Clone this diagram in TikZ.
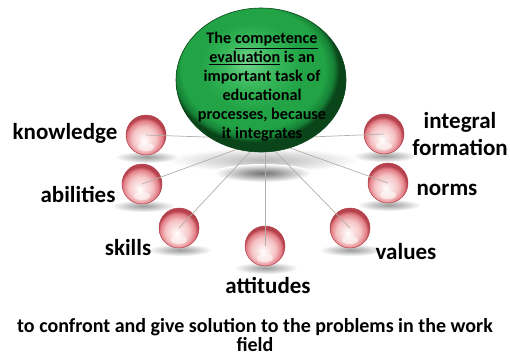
\documentclass[tikz,border=0pt]{standalone}
\usepackage{fontspec}
\setmainfont{Carlito}
\usetikzlibrary{shapes.geometric}
\definecolor{gHi}{HTML}{74D58E}
\definecolor{gMid}{HTML}{38B85A}
\definecolor{gMain}{HTML}{22A446}
\definecolor{gDark}{HTML}{168236}
\definecolor{gEdge}{HTML}{0A4519}
\definecolor{pHi}{HTML}{FCEAEA}
\definecolor{pMid}{HTML}{F5C3C5}
\definecolor{pEdge}{HTML}{E27E86}
\definecolor{pDark}{HTML}{B5424C}
\definecolor{spokecol}{HTML}{B4AEA6}
\pgfdeclareradialshading{greenball}{\pgfqpoint{-4bp}{7bp}}{color(0bp)=(gHi); color(8bp)=(gMid); color(15bp)=(gMain); color(21bp)=(gMain); color(23.5bp)=(gDark); color(25bp)=(gEdge); color(50bp)=(gEdge)}
\pgfdeclareradialshading{pinkball}{\pgfqpoint{-3bp}{-7bp}}{color(0bp)=(white); color(5bp)=(pHi); color(15bp)=(pMid); color(22bp)=(pEdge); color(25bp)=(pDark); color(50bp)=(pDark)}
\pgfdeclareradialshading{shadowfade}{\pgfpointorigin}{color(0bp)=(black!55); color(10bp)=(black!35); color(25bp)=(white); color(50bp)=(white)}
\begin{document}
\begin{tikzpicture}[x=1pt,y=-1pt,
  sphere/.style={circle, minimum size=40pt, inner sep=0pt, shading=pinkball, draw=pDark, line width=0.5pt},
  mainball/.style={ellipse, minimum width=170pt, minimum height=144pt, inner sep=0pt, shading=greenball, draw=gEdge, line width=0.6pt},
  maintext/.style={align=center, inner sep=0pt, font=\fontsize{16.2}{19}\selectfont\bfseries},
  lbl/.style={inner sep=0pt, font=\fontsize{23}{27}\selectfont\bfseries, align=center},
  bottomtext/.style={inner sep=0pt, font=\fontsize{20}{16.5}\selectfont\bfseries, align=center},
  spoke/.style={draw=spokecol, line width=0.7pt},
  shadow/.style={shading=shadowfade}]
\useasboundingbox (0,0) rectangle (510,360);
% shadows
\path[shadow, opacity=0.5] (263,160) ellipse [x radius=95, y radius=12];
\path[shadow] (263,173) ellipse [x radius=48, y radius=9];
\foreach \x/\y in {146/135, 142/184, 179/228, 265/246, 350/228, 388/183, 384/134}
  \path[shadow, opacity=0.7] (\x+1,\y+22) ellipse [x radius=32, y radius=6];
% spheres
\node[sphere] (kn) at (146,135) {};
\node[sphere] (ab) at (142,184) {};
\node[sphere] (sk) at (179,228) {};
\node[sphere] (at) at (265,246) {};
\node[sphere] (va) at (350,228) {};
\node[sphere] (no) at (388,183) {};
\node[sphere] (in) at (384,134) {};
\foreach \n in {kn,ab,sk,at,va,no,in}
  \fill[white, opacity=0.55] ([yshift=-12pt]\n.center) ellipse [x radius=8, y radius=4];
% spoke ends inside the main ball
\coordinate (ekn) at (220,137.5);
\coordinate (eab) at (245,146.3);
\coordinate (esk) at (254,147.7);
\coordinate (eat) at (265,140);
\coordinate (eva) at (270,146);
\coordinate (eno) at (280,144.4);
\coordinate (ein) at (300,137.4);
\draw[spoke] (kn.center) -- (ekn);
\draw[spoke] (ab.center) -- (eab);
\draw[spoke] (sk.center) -- (esk);
\draw[spoke] (at.center) -- (eat);
\draw[spoke] (va.center) -- (eva);
\draw[spoke] (no.center) -- (eno);
\draw[spoke] (in.center) -- (ein);
% main ball
\node[mainball] (ev) at (261,80) {};
\node[maintext] (evtext) at (262,87) {The \underline{competence}\\ \underline{evaluation} is an\\ important task of\\ educational\\ processes, because\\ it integrates};
% labels
\node[lbl] (lkn) at (65,133) {knowledge};
\node[lbl] (lab) at (78,194) {abilities};
\node[lbl] (lsk) at (128,248) {skills};
\node[lbl] (lat) at (268,285) {attitudes};
\node[lbl] (lva) at (406,252) {values};
\node[lbl] (lno) at (447,190) {norms};
\node[lbl] (lin) at (460,134) {integral\\ formation};
\node[bottomtext] (bt) at (255,335) {to confront and give solution to the problems in the work\\ field};
\end{tikzpicture}
\end{document}
